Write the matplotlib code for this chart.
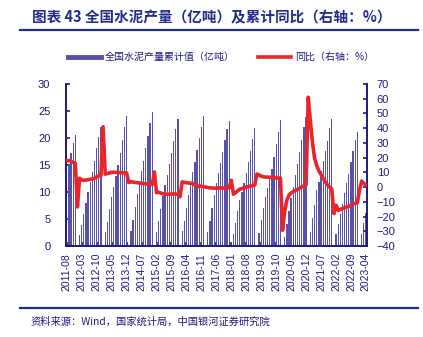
import numpy as np
import pandas as pd
import matplotlib
matplotlib.use("Agg")
import matplotlib.pyplot as plt
from matplotlib.lines import Line2D

plt.rcParams['font.family'] = ['Liberation Sans', 'Noto Sans CJK SC', 'DejaVu Sans']
plt.rcParams['axes.unicode_minus'] = True

nan = np.nan

# monthly cumulative cement output (100 million tonnes), Jan not published
output = [
    13.1, 15.2, 17.2, 19.0, 20.6,                                        # 2011 Aug-Dec
    nan, 2.0, 3.9, 5.9, 8.0, 10.0, 11.8, 13.7, 15.8, 18.1, 20.2, 22.1,    # 2012
    nan, 2.6, 4.5, 6.8, 9.0, 11.0, 12.9, 15.0, 17.2, 19.6, 22.0, 24.1,    # 2013
    nan, 2.8, 4.9, 7.3, 9.7, 11.8, 13.8, 15.8, 18.1, 20.4, 22.8, 24.8,    # 2014
    nan, 2.6, 4.6, 6.9, 9.2, 11.3, 13.2, 15.1, 17.2, 19.4, 21.6, 23.5,    # 2015
    nan, 2.7, 4.7, 7.1, 9.5, 11.8, 13.7, 15.6, 17.8, 20.0, 22.1, 24.0,    # 2016
    nan, 2.6, 4.6, 7.0, 9.4, 11.6, 13.5, 15.4, 17.5, 19.6, 21.6, 23.2,    # 2017
    nan, 2.3, 4.3, 6.4, 8.5, 10.0, 11.7, 13.5, 15.5, 17.6, 19.8, 21.8,    # 2018
    nan, 2.5, 4.8, 7.1, 9.1, 10.8, 12.4, 14.3, 16.4, 18.8, 21.2, 23.3,    # 2019
    nan, 1.6, 4.0, 6.4, 8.9, 11.0, 13.1, 15.1, 17.4, 19.7, 22.0, 23.8,    # 2020
    nan, 2.6, 5.1, 7.6, 10.3, 11.9, 13.8, 15.7, 17.6, 19.4, 21.8, 23.6,   # 2021
    nan, 2.2, 4.0, 5.9, 7.7, 9.8, 11.6, 13.4, 15.5, 17.6, 19.7, 21.2,     # 2022
    nan, 2.2, 4.2, 6.2,                                                   # 2023 Jan-Apr
]

# cumulative year-on-year change (%)
yoy = [
    18.0, 18.0, 17.6, 16.8, 16.1,
    -13.5, 6.0, 4.8, 4.6, 4.8, 5.0, 5.3, 5.6, 6.0, 7.0, 7.6, 8.0,
    41.0, 8.8, 9.2, 9.6, 10.0, 10.1, 10.0, 9.9, 9.8, 9.7, 9.7, 9.6,
    3.2, 3.5, 3.4, 3.2, 3.0, 2.8, 2.6, 2.4, 2.2, 2.0, 1.8, 1.8,
    10.3, -3.8, -3.5, -4.0, -4.5, -5.0, -4.9, -4.8, -4.7, -4.6, -4.7, -4.9,
    -6.5, 3.6, 3.2, 3.0, 2.8, 2.6, 2.4, 1.4, 0.0, 0.9, 0.5, 0.3,
    0.0, -0.3, -0.5, -0.6, -0.7, -0.7, -0.6, -0.5, -0.6, -0.7, -0.6, -0.5,
    4.6, -4.8, -3.8, -2.5, -1.4, -1.0, -0.5, 0.0, 0.3, 0.7, 1.0, 1.4,
    8.9, 8.2, 7.5, 7.0, 6.8, 6.8, 6.7, 6.5, 6.4, 6.2, 6.1, 6.1,
    -29.3, -16.0, -9.0, -5.5, -4.0, -3.0, -2.2, -1.5, -0.8, 0.2, 0.8, 1.6,
    61.0, 45.0, 30.0, 19.5, 14.5, 11.0, 8.5, 6.0, 3.5, 1.5, 0.0, -1.2,
    -18.0, -12.3, -15.8, -15.2, -14.6, -14.0, -13.5, -13.0, -12.2, -11.5, -11.0, -10.5,
    -2.0, 4.1, 2.5, 1.4,
]

months = pd.date_range("2011-08-01", "2023-04-01", freq="MS").strftime("%Y-%m").tolist()
label_step = 7

navy = '#1E1A7C'
bar_color = '#5851A8'
red = '#E8262A'

fig = plt.figure(figsize=(4.23, 3.37), dpi=100)
ax = fig.add_axes([0.1553, 0.27, 0.8676 - 0.1553, 0.7507 - 0.27])
ax2 = ax.twinx()

x = np.arange(len(months))
ax.bar(x, output, width=0.6, color=bar_color, linewidth=0, zorder=2)
ax2.plot(x, yoy, color=red, lw=2.6, solid_joinstyle='round', zorder=3)

ax.set_xlim(-0.5, len(months) - 0.5)
ax.set_ylim(0, 30)
ax.set_yticks(range(0, 31, 5))
ax2.set_ylim(-40, 70)
ax2.set_yticks(range(-40, 71, 10))

ax.set_xticks(x[::label_step])
ax.set_xticklabels(months[::label_step], rotation=90, fontsize=7.5, color=navy)

for a in (ax, ax2):
    a.spines['top'].set_visible(False)
    for s in ('left', 'right', 'bottom'):
        a.spines[s].set_color(navy)
        a.spines[s].set_linewidth(1.2)
ax.tick_params(axis='y', direction='in', length=3, width=1.2, color=navy,
               labelcolor=navy, labelsize=8, pad=11)
ax.tick_params(axis='x', direction='in', length=3, width=1.2, color=navy, pad=5)
ax2.tick_params(axis='y', direction='in', length=3, width=1.2, color=navy,
                labelcolor=navy, labelsize=8, pad=7)

# legend above the plot
handles = [Line2D([], [], color=bar_color, lw=3.5),
           Line2D([], [], color=red, lw=2.6)]
leg = fig.legend(handles, ['全国水泥产量累计值（亿吨）', '同比（右轴：%）'],
                 loc='center left', bbox_to_anchor=(0.14, 0.83), ncol=2,
                 frameon=False, handlelength=3.3, handletextpad=0.4,
                 columnspacing=2.3, prop={'family': 'Noto Sans CJK SC', 'size': 7.2})
for t in leg.get_texts():
    t.set_color(navy)

# header and footer
fig.text(0.075, 0.95, '图表 43 全国水泥产量（亿吨）及累计同比（右轴：%）',
         fontsize=10.5, fontweight='bold', color='#232B8C',
         family=['Noto Sans CJK SC', 'DejaVu Sans'], va='center', ha='left')
fig.add_artist(Line2D([0.047, 0.988], [0.912, 0.912], color='#1F2D8F', lw=1.6))
fig.add_artist(Line2D([0.047, 0.988], [0.085, 0.085], color='#1F2D8F', lw=1.6))
fig.text(0.072, 0.045, '资料来源：Wind，国家统计局，中国银河证券研究院',
         fontsize=7.4, style='italic', color=navy,
         family=['Noto Sans CJK SC', 'DejaVu Sans'], va='center', ha='left')

fig.savefig('out.png', dpi=100)
